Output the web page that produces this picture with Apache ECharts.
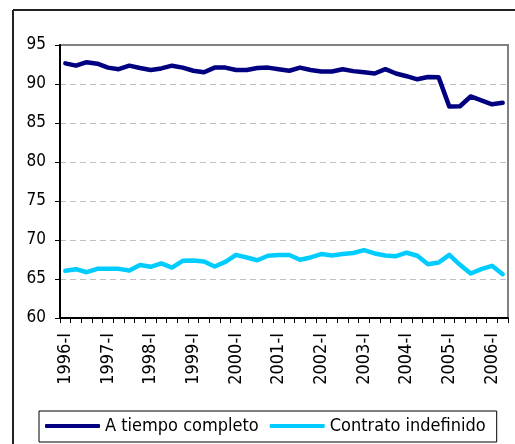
<!DOCTYPE html>
<html>
<head>
<meta charset="utf-8">
<script src="https://cdn.jsdelivr.net/npm/echarts@6/dist/echarts.min.js"></script>
<style>
html,body{margin:0;padding:0;background:#fff;}
#chart{width:515px;height:444px;}
</style>
</head>
<body>
<div id="chart"></div>
<script>
var categories = [
  "1996-I","1996-II","1996-III","1996-IV",
  "1997-I","1997-II","1997-III","1997-IV",
  "1998-I","1998-II","1998-III","1998-IV",
  "1999-I","1999-II","1999-III","1999-IV",
  "2000-I","2000-II","2000-III","2000-IV",
  "2001-I","2001-II","2001-III","2001-IV",
  "2002-I","2002-II","2002-III","2002-IV",
  "2003-I","2003-II","2003-III","2003-IV",
  "2004-I","2004-II","2004-III","2004-IV",
  "2005-I","2005-II","2005-III","2005-IV",
  "2006-I","2006-II"
];
var seriesNames = ["A tiempo completo", "Contrato indefinido"];
var tiempoCompleto = [
  92.65, 92.35, 92.8, 92.6, 92.1, 91.9, 92.35, 92.05, 91.8, 92.0,
  92.35, 92.1, 91.7, 91.5, 92.1, 92.1, 91.8, 91.8, 92.05, 92.1,
  91.9, 91.7, 92.1, 91.8, 91.6, 91.6, 91.9, 91.65, 91.5, 91.35,
  91.9, 91.35, 91.0, 90.6, 90.9, 90.85, 87.1, 87.15, 88.4, 87.9,
  87.4, 87.6
];
var contratoIndefinido = [
  66.05, 66.26, 65.87, 66.3, 66.3, 66.3, 66.1, 66.8, 66.56, 66.99,
  66.47, 67.33, 67.37, 67.24, 66.6, 67.2, 68.1, 67.76, 67.4, 67.98,
  68.07, 68.07, 67.46, 67.76, 68.2, 68.02, 68.2, 68.33, 68.7, 68.28,
  68.02, 67.93, 68.37, 67.98, 66.9, 67.11, 68.1, 66.82, 65.7, 66.26,
  66.69, 65.62
];
var yTicks = { min: 60, max: 95, interval: 5 };
var colors = ["#000080", "#00CCFF"];

var FONT = "'DejaVu Sans Condensed', 'DejaVu Sans', sans-serif";
var chart = echarts.init(document.getElementById('chart'), null, {renderer: 'canvas'});
chart.setOption({
  animation: false,
  backgroundColor: '#ffffff',
  color: colors,
  grid: {
    left: 60, right: 7, top: 45, bottom: 126,
    show: true, borderColor: '#808080', borderWidth: 2, backgroundColor: 'transparent'
  },
  legend: {
    left: 39, top: 411,
    orient: 'horizontal',
    data: seriesNames,
    icon: 'roundRect',
    itemWidth: 55, itemHeight: 4,
    itemGap: 11,
    borderColor: '#000', borderWidth: 1, borderRadius: 0,
    padding: [5, 11, 6, 6],
    textStyle: { fontFamily: FONT, fontSize: 18, color: '#000', lineHeight: 20 }
  },
  xAxis: {
    type: 'category',
    data: categories,
    boundaryGap: true,
    axisLine: { show: true, lineStyle: { color: '#000', width: 2 } },
    axisTick: { show: true, interval: 0, length: 5, lineStyle: { color: '#000', width: 1 } },
    axisLabel: {
      interval: 3, rotate: 90, margin: 15,
      fontFamily: FONT, fontSize: 18, color: '#000'
    },
    splitLine: { show: false }
  },
  yAxis: {
    type: 'value',
    min: yTicks.min, max: yTicks.max, interval: yTicks.interval,
    axisLine: { show: true, lineStyle: { color: '#000', width: 2 } },
    axisTick: { show: true, length: 5, lineStyle: { color: '#000', width: 1 } },
    axisLabel: { margin: 14, fontFamily: FONT, fontSize: 17, color: '#000' },
    splitLine: {
      show: true, showMinLine: false, showMaxLine: false,
      lineStyle: { color: '#c0c0c0', type: [6, 4], width: 1 }
    }
  },
  series: [
    {
      name: seriesNames[0], type: 'line', data: tiempoCompleto,
      symbol: 'none', smooth: false,
      lineStyle: { width: 4.5, color: colors[0], join: 'round', cap: 'round' }
    },
    {
      name: seriesNames[1], type: 'line', data: contratoIndefinido,
      symbol: 'none', smooth: false,
      lineStyle: { width: 4.5, color: colors[1], join: 'round', cap: 'round' }
    }
  ],
  graphic: [
    { type: 'line', shape: { x1: 13, y1: 10, x2: 515, y2: 10 }, style: { stroke: '#222', lineWidth: 2 } },
    { type: 'line', shape: { x1: 13, y1: 10, x2: 13, y2: 444 }, style: { stroke: '#222', lineWidth: 2 } }
  ]
});
</script>
</body>
</html>
